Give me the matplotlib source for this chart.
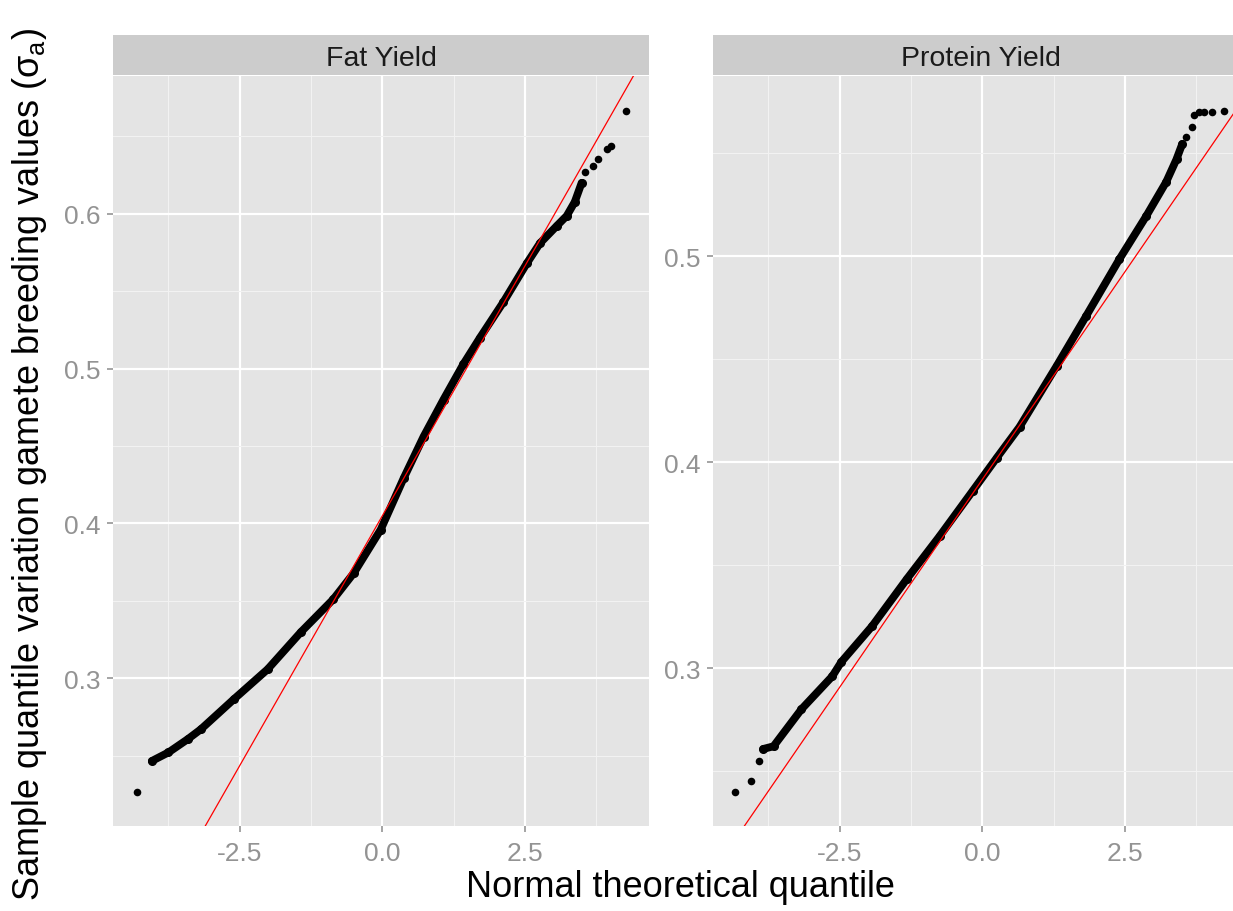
import numpy as np
import matplotlib
matplotlib.use('agg')
import matplotlib.pyplot as plt

plt.rcParams['font.family'] = ['Liberation Sans', 'DejaVu Sans']
plt.rcParams['mathtext.fontset'] = 'custom'
plt.rcParams['mathtext.rm'] = 'Liberation Sans'
plt.rcParams['mathtext.it'] = 'Liberation Sans:italic'
plt.rcParams['axes.unicode_minus'] = False

# panel titles
panels = ['Fat Yield', 'Protein Yield']

# Fat yield: dense part of the qq curve (theoretical, sample)
fat_q = [-4.04, -3.75, -3.41, -3.18, -2.60, -2.01, -1.43, -0.86, -0.50, -0.03,
         0.37, 0.72, 1.07, 1.42, 1.71, 2.12, 2.53, 2.76, 3.05, 3.23, 3.37, 3.49]
fat_y = [0.2465, 0.252, 0.2606, 0.267, 0.2865, 0.3058, 0.3297, 0.351, 0.368, 0.396,
         0.429, 0.456, 0.480, 0.503, 0.520, 0.543, 0.568, 0.581, 0.592, 0.5987, 0.6077, 0.620]
# Fat yield: isolated tail points
fat_tail_q = [-4.30, 3.55, 3.69, 3.78, 3.93, 4.00, 4.27]
fat_tail_y = [0.2265, 0.627, 0.631, 0.6355, 0.642, 0.644, 0.6665]
fat_line = (0.405, 0.0646)   # intercept, slope of reference line

# Protein yield
prot_q = [-3.84, -3.66, -3.17, -2.63, -2.47, -1.93, -1.33, -0.75, -0.17, 0.25,
          0.65, 1.30, 1.82, 2.40, 2.87, 3.22, 3.40, 3.50]
prot_y = [0.2607, 0.262, 0.280, 0.296, 0.303, 0.3204, 0.343, 0.364, 0.386, 0.402,
          0.417, 0.4466, 0.471, 0.4985, 0.5194, 0.536, 0.547, 0.5544]
prot_tail_q = [-4.33, -4.05, -3.92, 3.57, 3.68, 3.71, 3.80, 3.89, 4.03, 4.24]
prot_tail_y = [0.2398, 0.2452, 0.2549, 0.558, 0.5626, 0.5684, 0.570, 0.570, 0.570, 0.5703]
prot_line = (0.3916, 0.04036)

x_ticks = [-2.5, 0.0, 2.5]
x_labels = ['-2.5', '0.0', '2.5']
fat_yticks = [0.3, 0.4, 0.5, 0.6]
prot_yticks = [0.3, 0.4, 0.5]

W, H = 1233, 912
fig = plt.figure(figsize=(W / 100, H / 100), dpi=100)

panel_bg = '#E4E4E4'
strip_bg = '#CCCCCC'
tick_col = '#939393'

def px_axes(x0, y0, x1, y1):
    # pixel box (top-left origin) -> figure axes
    return fig.add_axes([x0 / W, 1 - y1 / H, (x1 - x0) / W, (y1 - y0) / H])

def draw_panel(ax, title, q, y, tq, ty, line, yticks, ylim):
    ax.set_facecolor(panel_bg)
    ax.set_xlim(-4.72, 4.67)
    ax.set_ylim(*ylim)
    ax.set_xticks(x_ticks)
    ax.set_xticklabels(x_labels)
    ax.set_yticks(yticks)
    ax.set_yticklabels(['%.1f' % v for v in yticks])
    ax.set_xticks([-3.75, -1.25, 1.25, 3.75], minor=True)
    ax.set_yticks([v + 0.05 for v in [yticks[0] - 0.1] + yticks], minor=True)
    ax.grid(True, which='major', color='white', lw=1.6)
    ax.grid(True, which='minor', color='#F2F2F2', lw=0.8)
    ax.set_axisbelow(True)
    for s in ax.spines.values():
        s.set_visible(False)
    ax.tick_params(which='major', length=4, width=1.1, color='#8C8C8C',
                   labelsize=19, labelcolor=tick_col)
    ax.tick_params(axis='x', pad=7)
    ax.tick_params(axis='y', pad=5)
    ax.tick_params(which='minor', length=0)
    ax.plot(q, y, '-o', color='black', lw=5.6, ms=5.5, zorder=3, solid_capstyle='round')
    ax.scatter(tq, ty, s=30, color='black', zorder=3, lw=0)
    ax.axline((0, line[0]), slope=line[1], color='#FF0000', lw=0.9, zorder=4)
    # strip on top
    bb = ax.get_position()
    sax = fig.add_axes([bb.x0, bb.y1 + 1 / H, bb.width, 40 / H])
    sax.set_facecolor(strip_bg)
    sax.set_xticks([])
    sax.set_yticks([])
    for s in sax.spines.values():
        s.set_visible(False)
    sax.text(0.5, 0.42, title, ha='center', va='center', fontsize=20.5, color='#1A1A1A',
             transform=sax.transAxes)

ax1 = px_axes(113, 77, 649, 827)
draw_panel(ax1, panels[0], fat_q, fat_y, fat_tail_q, fat_tail_y, fat_line,
           fat_yticks, (0.2045, 0.689))

ax2 = px_axes(713, 77, 1249, 827)
draw_panel(ax2, panels[1], prot_q, prot_y, prot_tail_q, prot_tail_y, prot_line,
           prot_yticks, (0.2233, 0.5874))

fig.text(680 / W, 1 - 888 / H, 'Normal theoretical quantile', ha='center', va='center',
         fontsize=26, color='black')
fig.text(30 / W, 1 - 465 / H,
         r'Sample quantile variation gamete breeding values ($\mathregular{\sigma_a}$)',
         ha='center', va='center', rotation=90, fontsize=26, color='black')

fig.savefig('out.png', dpi=100)
